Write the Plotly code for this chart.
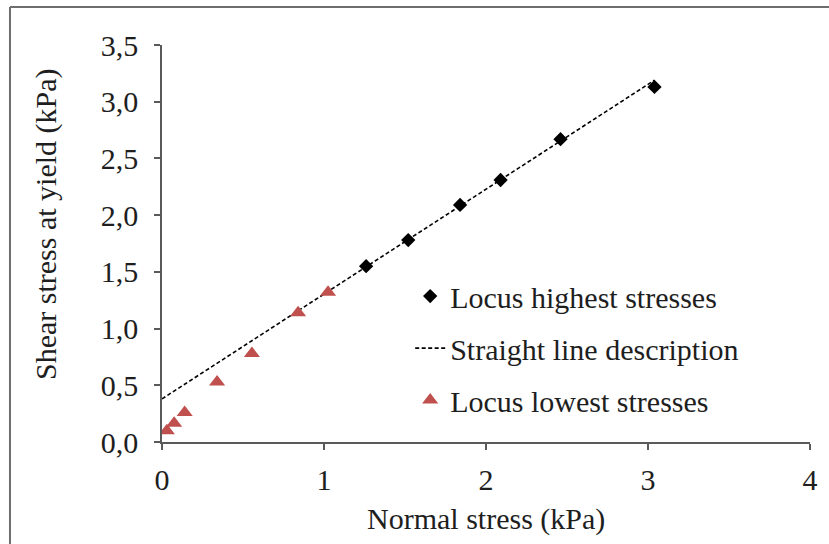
import plotly.graph_objects as go

# Data
high_x = [1.26, 1.52, 1.84, 2.09, 2.46, 3.04]
high_y = [1.55, 1.78, 2.09, 2.31, 2.67, 3.13]

low_x = [0.03, 0.075, 0.14, 0.34, 0.555, 0.84, 1.025]
low_y = [0.10, 0.165, 0.26, 0.53, 0.78, 1.14, 1.32]

line_x = [0.0, 3.04]
line_y = [0.38, 3.19]

x_ticks = [0, 1, 2, 3, 4]
y_ticks = [0.0, 0.5, 1.0, 1.5, 2.0, 2.5, 3.0, 3.5]

FONT = "Liberation Serif"
AXIS_COLOR = "#5a5a5a"
RED = "#C0504D"
TXT = "#1e1e1e"

fig = go.Figure()
fig.add_trace(go.Scatter(
    x=high_x, y=high_y, mode="markers", name="Locus highest stresses",
    marker=dict(symbol="diamond", size=11, color="black"),
    legendgroup="a",
))
fig.add_trace(go.Scatter(
    x=line_x, y=line_y, mode="lines", name="Straight line description",
    line=dict(color="black", width=1.6, dash="4px,2.5px"),
    legendgroup="b",
))
fig.add_trace(go.Scatter(
    x=low_x, y=low_y, mode="markers", name="Locus lowest stresses",
    marker=dict(symbol="triangle-up", size=14, color=RED),
    legendgroup="c",
))

fig.update_layout(
    width=829, height=544,
    margin=dict(l=162, r=19, t=45, b=102),
    paper_bgcolor="white", plot_bgcolor="white",
    font=dict(family=FONT, size=30, color=TXT),
    separators=", ",
    showlegend=True,
    legend=dict(
        x=0.383, y=0.433, xanchor="left", yanchor="top",
        bgcolor="rgba(0,0,0,0)", borderwidth=0,
        font=dict(family=FONT, size=30, color=TXT),
        tracegroupgap=10, itemwidth=30,
    ),
    xaxis=dict(
        range=[0, 4], tickvals=x_ticks, tickformat="d",
        showgrid=False, zeroline=False,
        showline=True, linecolor=AXIS_COLOR, linewidth=1.5,
        ticks="outside", ticklen=6, tickcolor=AXIS_COLOR, tickwidth=1.5,
        ticklabelstandoff=4,
        tickfont=dict(family=FONT, size=30, color=TXT),
    ),
    yaxis=dict(
        range=[0, 3.5], tickvals=y_ticks, tickformat=".1f",
        showgrid=False, zeroline=False,
        showline=True, linecolor=AXIS_COLOR, linewidth=1.5,
        ticks="outside", ticklen=6, tickcolor=AXIS_COLOR, tickwidth=1.5,
        ticklabelstandoff=10,
        tickfont=dict(family=FONT, size=30, color=TXT),
    ),
    annotations=[
        dict(text="Normal stress (kPa)", xref="paper", yref="paper",
             x=0.5, y=-0.195, xanchor="center", yanchor="middle",
             showarrow=False, font=dict(family=FONT, size=30, color=TXT)),
        dict(text="Shear stress at yield (kPa)", xref="paper", yref="paper",
             x=-0.18, y=0.55, xanchor="center", yanchor="middle", textangle=-90,
             showarrow=False, font=dict(family=FONT, size=30, color=TXT)),
    ],
    shapes=[
        dict(type="line", xref="paper", yref="paper",
             x0=-0.2346, x1=-0.2346, y0=-0.3, y1=1.0957,
             line=dict(color="#6e6e6e", width=2)),
        dict(type="line", xref="paper", yref="paper",
             x0=-0.2346, x1=1.05, y0=1.0957, y1=1.0957,
             line=dict(color="#6e6e6e", width=2)),
    ],
)

fig.write_html("out.html", post_script="document.body.style.margin='0';",
               config={"displayModeBar": False})
